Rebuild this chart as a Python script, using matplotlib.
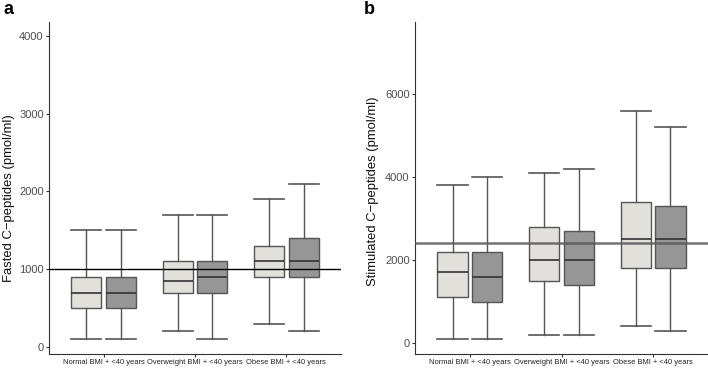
import matplotlib.pyplot as plt

plt.rcParams['font.family'] = ['Liberation Sans', 'DejaVu Sans']

groups = ["Normal BMI + <40 years", "Overweight BMI + <40 years", "Obese BMI + <40 years"]

# panel a: fasted C-peptides, [low whisker, q1, median, q3, high whisker]
fasted_light = [[100, 500, 700, 900, 1500], [200, 700, 850, 1100, 1700], [300, 900, 1100, 1300, 1900]]
fasted_dark = [[100, 500, 700, 900, 1500], [100, 700, 900, 1100, 1700], [200, 900, 1100, 1400, 2100]]
fasted_ref = 1000

# panel b: stimulated C-peptides
stim_light = [[100, 1100, 1700, 2200, 3800], [200, 1500, 2000, 2800, 4100], [400, 1800, 2500, 3400, 5600]]
stim_dark = [[100, 1000, 1600, 2200, 4000], [200, 1400, 2000, 2700, 4200], [300, 1800, 2500, 3300, 5200]]
stim_ref = 2400

light_col = "#e2e0da"
dark_col = "#969696"
edge = "#555555"


def stats(rows, label):
    return [dict(whislo=r[0], q1=r[1], med=r[2], q3=r[3], whishi=r[4], label=label) for r in rows]


def panel(ax, light, dark, ref, ylim, yticks, ylabel, refstyle, labx, laby):
    xs = range(1, len(groups) + 1)
    w = 0.33
    for data, col, off in [(light, light_col, -0.19), (dark, dark_col, 0.19)]:
        ax.bxp(stats(data, ""), positions=[x + off for x in xs], widths=w,
               patch_artist=True, showfliers=False, capwidths=w,
               boxprops=dict(facecolor=col, edgecolor=edge, linewidth=1.0),
               medianprops=dict(color="#333333", linewidth=1.2),
               whiskerprops=dict(color=edge, linewidth=1.0),
               capprops=dict(color=edge, linewidth=1.2))
    ax.axhline(ref, zorder=5, **refstyle)
    ax.set_xlim(0.4, 3.6)
    ax.set_ylim(*ylim)
    ax.set_yticks(yticks)
    ax.set_yticklabels([str(t) for t in yticks], fontsize=8, color="#4d4d4d")
    ax.set_xticks(list(xs))
    ax.set_xticklabels(groups, fontsize=5.4, color="#222222")
    ax.set_ylabel(ylabel, fontsize=9.4, color="#111111")
    ax.yaxis.set_label_coords(labx, laby)
    for s in ["top", "right"]:
        ax.spines[s].set_visible(False)
    for s in ["left", "bottom"]:
        ax.spines[s].set_color("#333333")
        ax.spines[s].set_linewidth(0.8)
    ax.tick_params(length=2.5, width=0.8, color="#333333", pad=1.3)


fig = plt.figure(figsize=(7.08, 3.68), dpi=100)
ax1 = fig.add_axes([49 / 708, 14 / 368, 292 / 708, 332 / 368])
ax2 = fig.add_axes([415 / 708, 14 / 368, 293 / 708, 332 / 368])

panel(ax1, fasted_light, fasted_dark, fasted_ref, (-90, 4180), [0, 1000, 2000, 3000, 4000],
      "Fasted C\u2212peptides (pmol/ml)", dict(color="black", linewidth=1.0), -0.118, 0.47)
panel(ax2, stim_light, stim_dark, stim_ref, (-265, 7735), [0, 2000, 4000, 6000],
      "Stimulated C\u2212peptides (pmol/ml)", dict(color="#5a5a5a", linewidth=1.8, alpha=0.85), -0.124, 0.49)

fig.text(3 / 708, 1 - 1 / 368, "a", fontsize=13, fontweight="bold", va="top", ha="left")
fig.text(364 / 708, 1 - 1 / 368, "b", fontsize=13, fontweight="bold", va="top", ha="left")

fig.savefig("out.png", dpi=100)
